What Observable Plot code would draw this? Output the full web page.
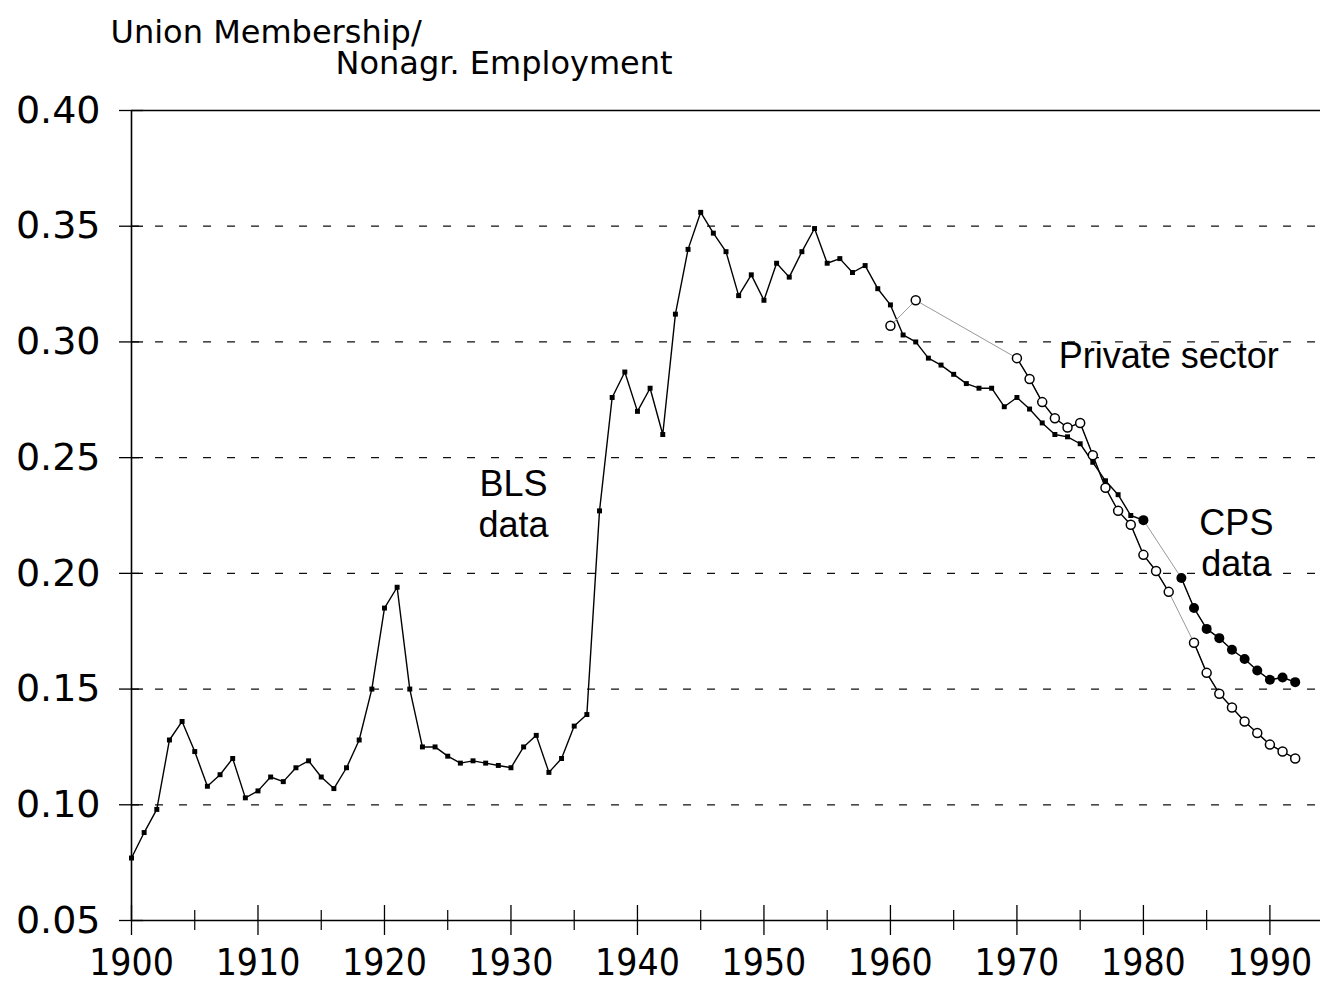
<!DOCTYPE html>
<html><head><meta charset="utf-8">
<script src="https://cdn.jsdelivr.net/npm/d3@7"></script>
<script src="https://cdn.jsdelivr.net/npm/@observablehq/plot@0.6"></script>
<style>body{margin:0;background:#fff;}</style>
</head><body><div id="chart"></div>
<script>
// ---- data ----
const blsYears = [1900,1901,1902,1903,1904,1905,1906,1907,1908,1909,1910,1911,1912,1913,1914,1915,1916,1917,1918,1919,
  1920,1921,1922,1923,1924,1925,1926,1927,1928,1929,1930,1931,1932,1933,1934,1935,1936,1937,1938,1939,
  1940,1941,1942,1943,1944,1945,1946,1947,1948,1949,1950,1951,1952,1953,1954,1955,1956,1957,1958,1959,
  1960,1961,1962,1963,1964,1965,1966,1967,1968,1969,1970,1971,1972,1973,1974,1975,1976,1977,1978,1979,1980];
const blsValues = [0.077,0.088,0.098,0.128,0.136,0.123,0.108,0.113,0.120,0.103,0.106,0.112,0.110,0.116,0.119,0.112,0.107,0.116,0.128,0.150,
  0.185,0.194,0.150,0.125,0.125,0.121,0.118,0.119,0.118,0.117,0.116,0.125,0.130,0.114,0.120,0.134,0.139,0.227,0.276,0.287,
  0.270,0.280,0.260,0.312,0.340,0.356,0.347,0.339,0.320,0.329,0.318,0.334,0.328,0.339,0.349,0.334,0.336,0.330,0.333,0.323,
  0.316,0.303,0.300,0.293,0.290,0.286,0.282,0.280,0.280,0.272,0.276,0.271,0.265,0.260,0.259,0.256,0.248,0.240,0.234,0.225,0.223];

const privateYears = [1960,1962,1970,1971,1972,1973,1974,1975,1976,1977,1978,1979,1980,1981,1982,1984,1985,1986,1987,1988,1989,1990,1991,1992];
const privateValues = [0.307,0.318,0.293,0.284,0.274,0.267,0.263,0.265,0.251,0.237,0.227,0.221,0.208,0.201,0.192,0.170,0.157,0.148,0.142,0.136,0.131,0.126,0.123,0.120];
const privateSegment = ["early","early","bls","bls","bls","bls","bls","bls","bls","bls","bls","bls","bls","bls","bls","cps","cps","cps","cps","cps","cps","cps","cps","cps"];

const cpsYears = [1980,1983,1984,1985,1986,1987,1988,1989,1990,1991,1992];
const cpsValues = [0.223,0.198,0.185,0.176,0.172,0.167,0.163,0.158,0.154,0.155,0.153];
const cpsSegment = ["start","cps","cps","cps","cps","cps","cps","cps","cps","cps","cps"];

const yTicks = [0.05,0.10,0.15,0.20,0.25,0.30,0.35,0.40];
const gridValues = [0.10,0.15,0.20,0.25,0.30,0.35];
const xMajorYears = [1900,1910,1920,1930,1940,1950,1960,1970,1980,1990];
const xMinorYears = [1905,1915,1925,1935,1945,1955,1965,1975,1985];

// ---- tables ----
const bls = blsYears.map((year, i) => ({year, value: blsValues[i]}));
const priv = privateYears.map((year, i) => ({year, value: privateValues[i], seg: privateSegment[i]}));
const cps = cpsYears.map((year, i) => ({year, value: cpsValues[i], seg: cpsSegment[i]}));

const sans = "'Liberation Sans', Arial, Helvetica, sans-serif";
const wide = "'DejaVu Sans', sans-serif";

const chart = Plot.plot({
  width: 1327,
  height: 989,
  marginLeft: 131,
  marginRight: 7,
  marginTop: 110,
  marginBottom: 69,
  style: {fontFamily: sans, background: "#fff", color: "#000", overflow: "visible"},
  x: {domain: [1900, 1994], label: null},
  y: {domain: [0.05, 0.40], label: null},
  marks: [
    // dashed gridlines
    Plot.ruleY(gridValues, {stroke: "#111", strokeWidth: 1.2, strokeDasharray: "8,16"}),
    // top border and axes lines
    Plot.ruleY([0.40], {stroke: "#000", strokeWidth: 1.4}),
    Plot.ruleY([0.05], {stroke: "#000", strokeWidth: 1.6}),
    Plot.ruleX([1900], {stroke: "#000", strokeWidth: 1.6}),
    // y ticks crossing the axis
    Plot.axisY({ticks: yTicks, tickSize: 24, dx: 12, tickFormat: () => "", label: null, strokeWidth: 1.3}),
    // y labels
    Plot.axisY({ticks: yTicks, tickSize: 0, tickPadding: 31, tickFormat: d3.format(".2f"), label: null,
      fontSize: 38, fontFamily: wide}),
    // x ticks crossing the axis
    Plot.axisX({ticks: xMajorYears, tickSize: 30, dy: -15, tickFormat: () => "", label: null, strokeWidth: 1.3}),
    Plot.axisX({ticks: xMinorYears, tickSize: 20, dy: -10, tickFormat: () => "", label: null, strokeWidth: 1.2}),
    // x labels
    Plot.axisX({ticks: xMajorYears, tickSize: 0, tickPadding: 28, tickFormat: d => String(d), label: null,
      fontSize: 37, fontFamily: "'Liberation Sans Narrow', 'DejaVu Sans Condensed', 'Liberation Sans', Arial, sans-serif"}),

    // BLS series
    Plot.line(bls, {x: "year", y: "value", stroke: "#000", strokeWidth: 1.4}),
    Plot.dot(bls, {x: "year", y: "value", symbol: "square", r: 2.8, fill: "#000"}),

    // Private sector series: faint connectors, then solid segments
    Plot.line(priv, {x: "year", y: "value", stroke: "#999", strokeWidth: 1}),
    Plot.line(priv, {x: "year", y: "value", z: "seg", filter: d => d.seg !== "early", stroke: "#000", strokeWidth: 1.4}),
    Plot.dot(priv, {x: "year", y: "value", r: 4.5, fill: "#fff", stroke: "#000", strokeWidth: 1.5}),

    // CPS series
    Plot.line(cps, {x: "year", y: "value", stroke: "#999", strokeWidth: 1}),
    Plot.line(cps, {x: "year", y: "value", filter: d => d.seg === "cps", stroke: "#000", strokeWidth: 1.4}),
    Plot.dot(cps, {x: "year", y: "value", r: 5, fill: "#000"}),

    // annotations
    Plot.text(["BLS\ndata"], {x: 1930.2, y: 0.2304, fontSize: 36, lineHeight: 1.14, textAnchor: "middle", fill: "#000"}),
    Plot.text(["Private sector"], {x: 1973.3, y: 0.2937, fontSize: 36, textAnchor: "start", fill: "#000"}),
    Plot.text(["CPS\ndata"], {x: 1987.35, y: 0.2136, fontSize: 36, lineHeight: 1.14, textAnchor: "middle", fill: "#000"}),

    // y-axis title in the top margin
    Plot.text(["Union Membership/"], {frameAnchor: "top-left", lineAnchor: "middle", dx: -21, dy: -78, fontSize: 32, fontFamily: wide, textAnchor: "start", fill: "#000"}),
    Plot.text(["Nonagr. Employment"], {frameAnchor: "top-left", lineAnchor: "middle", dx: 204, dy: -47, fontSize: 32, fontFamily: wide, textAnchor: "start", fill: "#000"})
  ]
});

document.getElementById("chart").appendChild(chart);
</script>
</body></html>
